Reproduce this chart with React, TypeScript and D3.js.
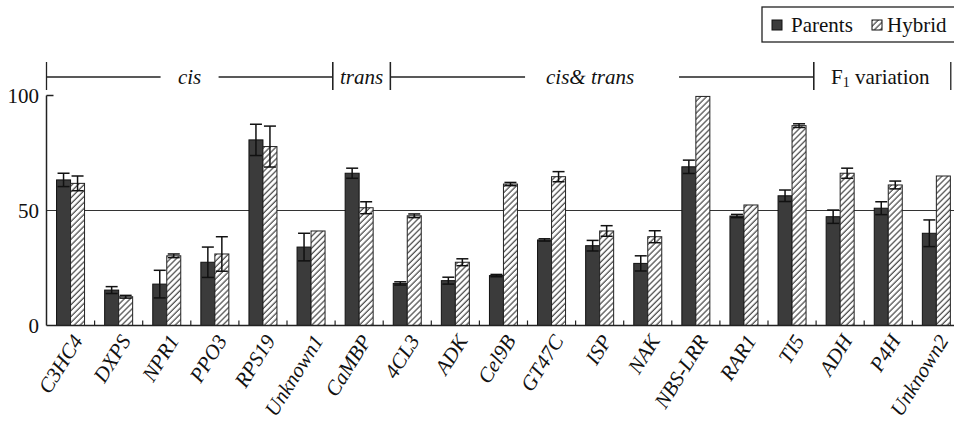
import React from "react"
import * as d3 from "d3"

const WIDTH = 954
const HEIGHT = 425

const GENES = [
  "C3HC4", "DXPS", "NPR1", "PPO3", "RPS19", "Unknown1", "CaMBP", "4CL3", "ADK",
  "Cel9B", "GT47C", "ISP", "NAK", "NBS-LRR", "RAR1", "TI5", "ADH", "P4H", "Unknown2",
]
const PARENTS = [63.3, 15.4, 18, 27.5, 80.7, 34.1, 66.2, 18.3, 19.5, 21.7, 37.2, 34.7, 27, 69, 47.6, 56.4, 47.3, 51, 40.1]
const PARENTS_ERR = [2.9, 1.5, 6, 6.6, 6.8, 6, 2.2, 0.7, 1.5, 0.5, 0.5, 2.3, 3.3, 2.9, 0.7, 2.5, 2.9, 2.8, 5.8]
const HYBRID = [61.8, 12.5, 30.3, 31.1, 77.8, 41.1, 51.2, 47.7, 27.5, 61.5, 64.7, 41.1, 38.6, 99.6, 52.4, 86.9, 66.2, 61.1, 65]
const HYBRID_ERR = [3.2, 0.6, 0.8, 7.5, 8.9, 0, 2.6, 0.8, 1.5, 0.7, 2.2, 2.3, 2.6, 0, 0, 0.8, 2.2, 1.7, 0]
const Y_TICKS = [0, 50, 100]

// bracket sections above the plot, in category units
const SECTIONS = [
  { label: "cis", from: 0, to: 5.95, line: true },
  { label: "trans", from: 5.95, to: 7.15, line: false },
  { label: "cis& trans", from: 7.15, to: 15.95, line: true },
  { label: "F1", from: 15.95, to: 18.8, line: false },
]

const FONT = "'Liberation Serif', 'Times New Roman', serif"
const DARK = "#3b3b3b"

export default function App() {
  const x0 = 46.5
  const step = 48.1
  const x = d3.scaleLinear().domain([0, GENES.length]).range([x0, x0 + step * GENES.length])
  const y = d3.scaleLinear().domain([0, 100]).range([325.5, 95.5])
  const barW = 14
  const yBase = y(0)
  const bracketY = 77

  const errBar = (cx: number, v: number, e: number, key: string) => {
    if (!e) return null
    const cap = barW - 2
    return (
      <g key={key} stroke="#111" strokeWidth={1.5}>
        <line x1={cx} x2={cx} y1={y(v - e)} y2={y(v + e)} />
        <line x1={cx - cap / 2} x2={cx + cap / 2} y1={y(v + e)} y2={y(v + e)} />
        <line x1={cx - cap / 2} x2={cx + cap / 2} y1={y(v - e)} y2={y(v - e)} />
      </g>
    )
  }

  return (
    <svg
      width={WIDTH}
      height={HEIGHT}
      style={{ position: "absolute", left: 0, top: 0, background: "#fff" }}
      fontFamily={FONT}
    >
      <defs>
        <pattern id="hatch" width={4.2} height={4.2} patternUnits="userSpaceOnUse" patternTransform="rotate(45)">
          <rect width={4.2} height={4.2} fill="#fff" />
          <line x1={1} x2={1} y1={0} y2={4.2} stroke="#333" strokeWidth={1.1} />
        </pattern>
      </defs>

      {/* 50% reference line */}
      <line x1={x0} x2={WIDTH} y1={y(50)} y2={y(50)} stroke="#333" strokeWidth={1.2} />

      {/* bars */}
      {GENES.map((g, i) => {
        const cx = (x(i) + x(i + 1)) / 2
        const px = cx - barW
        const hx = cx
        return (
          <g key={g}>
            <rect x={px} y={y(PARENTS[i])} width={barW} height={yBase - y(PARENTS[i])} fill={DARK} stroke="#111" strokeWidth={1} />
            <rect x={hx} y={y(HYBRID[i])} width={barW} height={yBase - y(HYBRID[i])} fill="url(#hatch)" stroke="#222" strokeWidth={1} />
            {errBar(px + barW / 2, PARENTS[i], PARENTS_ERR[i], "pe")}
            {errBar(hx + barW / 2, HYBRID[i], HYBRID_ERR[i], "he")}
          </g>
        )
      })}

      {/* axes */}
      <line x1={x0} x2={x0} y1={y(100)} y2={yBase} stroke="#222" strokeWidth={1.5} />
      <line x1={x0} x2={WIDTH} y1={yBase} y2={yBase} stroke="#222" strokeWidth={1.5} />
      <line x1={x0} x2={x0 + 7} y1={y(100)} y2={y(100)} stroke="#222" strokeWidth={1.5} />
      {d3.range(1, GENES.length + 1).map(k => (
        <line key={k} x1={x(k)} x2={x(k)} y1={yBase} y2={yBase - 5} stroke="#222" strokeWidth={1.2} />
      ))}
      {Y_TICKS.map(t => (
        <text key={t} x={39} y={y(t)} fontSize={21} textAnchor="end" dominantBaseline="central" fill="#111">
          {t}
        </text>
      ))}

      {/* category labels */}
      {GENES.map((g, i) => {
        const cx = (x(i) + x(i + 1)) / 2
        return (
          <text
            key={g}
            transform={`translate(${cx + 13}, ${yBase + 15}) rotate(-58)`}
            fontSize={21}
            fontStyle="italic"
            textAnchor="end"
            fill="#111"
          >
            {g}
          </text>
        )
      })}

      {/* section brackets */}
      {SECTIONS.map(s => {
        const a = x(s.from)
        const b = x(s.to)
        const mid = (a + b) / 2
        const gap = s.label === "cis" ? 29 : 77
        return (
          <g key={s.label} stroke="#222" strokeWidth={1.3}>
            {s.line && (
              <>
                <line x1={a} x2={mid - gap} y1={bracketY} y2={bracketY} />
                <line x1={mid + gap} x2={b} y1={bracketY} y2={bracketY} />
              </>
            )}
            <line x1={a} x2={a} y1={bracketY - 15} y2={bracketY + 13} />
            <line x1={b} x2={b} y1={bracketY - 15} y2={bracketY + 13} />
            {s.label === "F1" ? (
              <text x={mid - 2} y={bracketY} fontSize={21} textAnchor="middle" dominantBaseline="central" stroke="none" fill="#111">
                F<tspan fontSize={14} dy={5}>1</tspan>
                <tspan dy={-5}>{"\u00a0variation"}</tspan>
              </text>
            ) : (
              <text x={s.label === "cis& trans" ? mid - 12 : mid} y={bracketY} fontSize={21} fontStyle="italic" textAnchor="middle" dominantBaseline="central" stroke="none" fill="#111">
                {s.label}
              </text>
            )}
          </g>
        )
      })}

      {/* legend */}
      <g>
        <rect x={762} y={7} width={200} height={35} fill="#fff" stroke="#222" strokeWidth={1.3} />
        <rect x={772} y={20} width={10} height={10} fill={DARK} stroke="#111" />
        <text x={791} y={25} fontSize={21} dominantBaseline="central" fill="#111">Parents</text>
        <rect x={872} y={20} width={10} height={10} fill="url(#hatch)" stroke="#111" />
        <text x={887} y={25} fontSize={21} dominantBaseline="central" fill="#111">Hybrid</text>
      </g>
    </svg>
  )
}
